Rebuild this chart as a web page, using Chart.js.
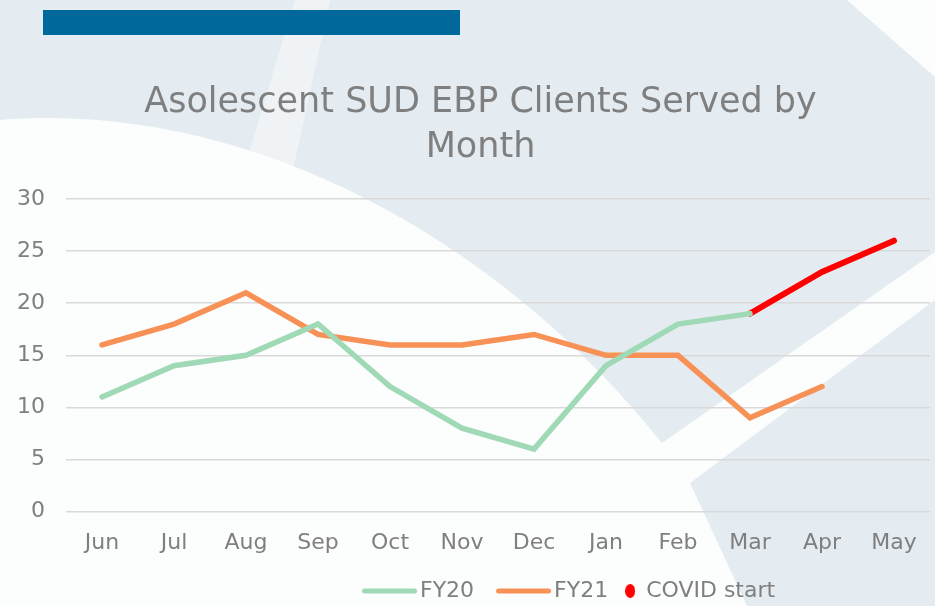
<!DOCTYPE html>
<html>
<head>
<meta charset="utf-8">
<script src="https://cdn.jsdelivr.net/npm/chart.js@4"></script>
<style>
  html, body { margin: 0; padding: 0; background: #e4ecf1; }
  #contenedor { width: 935px; height: 606px; position: relative; }
</style>
</head>
<body>
<div id="contenedor"><canvas id="grafica"></canvas></div>
<script>
// --- datos ---
const meses = ['Jun', 'Jul', 'Aug', 'Sep', 'Oct', 'Nov', 'Dec', 'Jan', 'Feb', 'Mar', 'Apr', 'May'];
const fy20 = [11, 14, 15, 18, 12, 8, 6, 14, 18, 19, null, null];
const fy21 = [16, 18, 21, 17, 16, 16, 17, 15, 15, 9, 12, null];
const covid = [null, null, null, null, null, null, null, null, null, 19, 23, 26];
const ejeY = { min: 0, max: 30, paso: 5 };
const titulo = ['Asolescent SUD EBP Clients Served by', 'Month'];

const gris = '#7f7f7f';
const fuente = 'DejaVu Sans';

// marcas de la leyenda (canvas pequeños usados como pointStyle)
function lineaLeyenda(color) {
    const c = document.createElement('canvas');
    c.width = 86; c.height = 6;
    const g = c.getContext('2d');
    g.strokeStyle = color;
    g.lineWidth = 5;
    g.lineCap = 'round';
    g.beginPath(); g.moveTo(3.5, 3); g.lineTo(53.5, 3); g.stroke();
    return c;
}
function puntoLeyenda(color) {
    const c = document.createElement('canvas');
    c.width = 10; c.height = 14;
    const g = c.getContext('2d');
    g.fillStyle = color;
    g.beginPath(); g.ellipse(5, 7, 5, 7, 0, 0, Math.PI * 2); g.fill();
    return c;
}

// fondo de la diapositiva
const fondo = {
    id: 'fondo',
    beforeDraw(chart) {
        const ctx = chart.ctx;
        ctx.save();
        ctx.fillStyle = '#e4ecf1';
        ctx.fillRect(0, 0, chart.width, chart.height);
        ctx.fillStyle = '#fcfdfd';
        ctx.beginPath();
        ctx.moveTo(0, 120);
        ctx.bezierCurveTo(250, 100, 500, 240, 662, 443);
        ctx.lineTo(935, 252); ctx.lineTo(935, 606); ctx.lineTo(0, 606);
        ctx.closePath(); ctx.fill();
        ctx.beginPath();
        ctx.moveTo(847, 0); ctx.lineTo(935, 0); ctx.lineTo(935, 77);
        ctx.closePath(); ctx.fill();
        ctx.fillStyle = '#e4ecf1';
        ctx.beginPath();
        ctx.moveTo(690, 483); ctx.lineTo(935, 300); ctx.lineTo(935, 606); ctx.lineTo(747, 606);
        ctx.closePath(); ctx.fill();
        ctx.fillStyle = 'rgba(255,255,255,0.4)';
        ctx.beginPath();
        ctx.moveTo(295, 0); ctx.lineTo(330, 0); ctx.lineTo(293, 170); ctx.lineTo(250, 150);
        ctx.closePath(); ctx.fill();
        ctx.fillStyle = '#00689b';
        ctx.fillRect(43, 10, 417, 25);
        ctx.restore();
    }
};

// mover título y leyenda a su sitio
const ajuste = {
    id: 'ajuste',
    afterLayout(chart) {
        const t = chart.titleBlock;
        t.left += 7; t.right += 7;
        const l = chart.legend;
        l.left = 0;
        l.right = 399 + l.lineWidths[0];
        l.top = 563;
        l.bottom = 606;
    }
};

const marcas = [lineaLeyenda('#a0d9b5'), lineaLeyenda('#f79156'), puntoLeyenda('#ff0000')];
const textosLeyenda = ['FY20      ', 'FY21', 'COVID start'];

const ctx = document.getElementById('grafica').getContext('2d');

new Chart(ctx, {
    type: 'line',
    data: {
        labels: meses,
        datasets: [
            { label: 'FY20', data: fy20, borderColor: '#a0d9b5', borderWidth: 5.5, pointRadius: 0, borderCapStyle: 'round' },
            { label: 'FY21', data: fy21, borderColor: '#f79156', borderWidth: 5.5, pointRadius: 0, borderCapStyle: 'round' },
            { label: 'COVID start', data: covid, borderColor: '#ff0000', borderWidth: 6, pointRadius: 0, borderCapStyle: 'round' }
        ]
    },
    options: {
        responsive: true,
        maintainAspectRatio: false,
        animation: false,
        layout: { autoPadding: false, padding: { left: 17, right: 5, top: 0, bottom: 12 } },
        plugins: {
            title: {
                display: true,
                text: titulo,
                color: gris,
                font: { family: fuente, size: 35, weight: 'normal', lineHeight: 45 / 35 },
                padding: { top: 80, bottom: 29 }
            },
            legend: {
                position: 'bottom',
                align: 'end',
                maxHeight: 20,
                labels: {
                    color: gris,
                    font: { family: fuente, size: 22 },
                    usePointStyle: true,
                    pointStyleWidth: 10,
                    padding: 17,
                    generateLabels: (chart) => chart.data.datasets.map((ds, i) => ({
                        text: textosLeyenda[i],
                        pointStyle: marcas[i],
                        fillStyle: ds.borderColor,
                        strokeStyle: ds.borderColor,
                        lineWidth: 0,
                        fontColor: gris,
                        hidden: false,
                        datasetIndex: i
                    }))
                }
            },
            tooltip: { enabled: false }
        },
        scales: {
            x: {
                offset: true,
                grid: { display: false, drawTicks: false },
                border: { display: false },
                ticks: { color: gris, font: { family: fuente, size: 22 }, padding: 18, maxRotation: 0, autoSkip: false }
            },
            y: {
                min: ejeY.min,
                max: ejeY.max,
                afterFit: (escala) => { escala.width = 49; },
                grid: { color: '#d9d9d9', lineWidth: 1.5, drawTicks: false },
                border: { display: false },
                ticks: { stepSize: ejeY.paso, color: gris, font: { family: fuente, size: 22 }, padding: 21 }
            }
        }
    },
    plugins: [fondo, ajuste]
});
</script>
</body>
</html>
